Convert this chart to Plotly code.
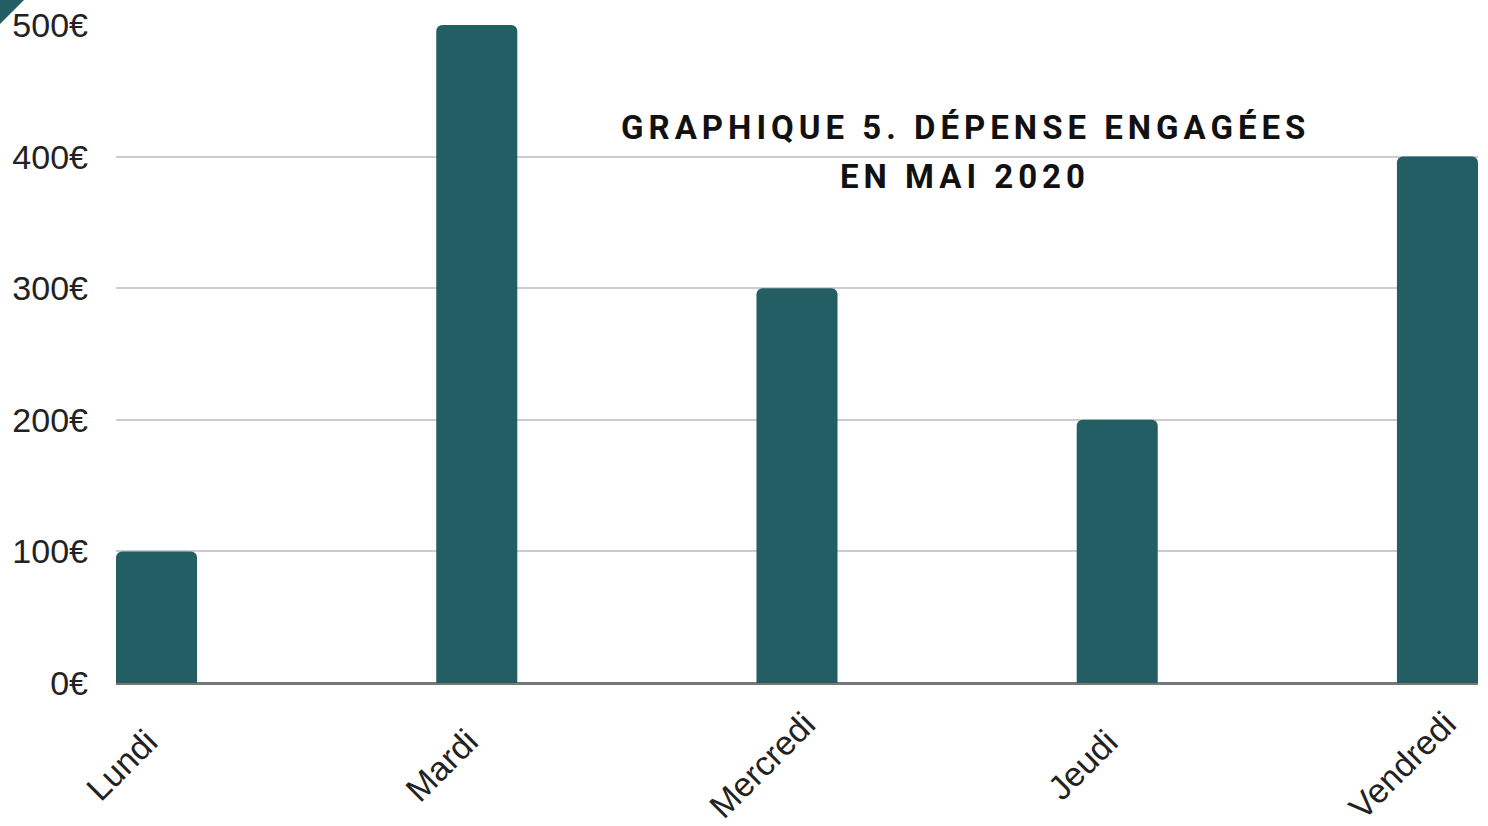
import plotly.graph_objects as go

days = ["Lundi", "Mardi", "Mercredi", "Jeudi", "Vendredi"]
spend = [100, 500, 300, 200, 400]
y_ticks = [0, 100, 200, 300, 400, 500]
y_tick_labels = ["0€", "100€", "200€", "300€", "400€", "500€"]
title_lines = ["GRAPHIQUE 5. DÉPENSE ENGAGÉES", "EN MAI 2020"]

W, H = 1488, 826
ML, MR, MT, MB = 116, 10, 25, 143
PW, PH = W - ML - MR, H - MT - MB
BAR = "#235E65"

fig = go.Figure(go.Bar(
    x=list(range(len(days))), y=spend,
    marker=dict(color=BAR, cornerradius=6, line=dict(width=0)),
    width=0.2531, hoverinfo="skip",
))

fig.update_layout(
    width=W, height=H,
    margin=dict(l=ML, r=MR, t=MT, b=MB, pad=0, autoexpand=False),
    paper_bgcolor="white", plot_bgcolor="white",
    showlegend=False,
    font=dict(family="Liberation Sans, Arial, sans-serif", color="#222222"),
)
fig.update_xaxes(
    range=[-0.1266, 4.1266], tickmode="array",
    tickvals=list(range(len(days))), ticktext=days,
    showticklabels=False,
    showgrid=False, zeroline=False, showline=False, ticks="",
    automargin=False,
)
fig.update_yaxes(
    range=[0, 500], tickmode="array", tickvals=y_ticks, ticktext=y_tick_labels,
    tickfont=dict(size=34, color="#222222"),
    showgrid=True, gridcolor="#CCCCCC", gridwidth=2,
    zeroline=True, zerolinecolor="#777777", zerolinewidth=3,
    showline=False, ticks="", ticklabelstandoff=27, automargin=False,
    ticklabeloverflow="allow",
)

# category labels, rotated about their centre below each bar
for i, d in enumerate(days):
    fig.add_annotation(
        text=d, x=i, xref="x", yref="paper",
        y=-(765 - 683) / PH, xshift=-35,
        textangle=-45, showarrow=False,
        xanchor="center", yanchor="middle",
        font=dict(size=34, color="#222222",
                  family="Liberation Sans, Arial, sans-serif"),
    )

def span(t):
    return '<span style="letter-spacing:5px">' + t + '</span>'

for i, (line, ypix) in enumerate(zip(title_lines, [128, 176])):
    fig.add_annotation(
        text="<b>" + span(line) + "</b>",
        xref="paper", yref="paper",
        x=(965 - ML) / PW, y=1 - (ypix - MT) / PH,
        xanchor="center", yanchor="middle", showarrow=False,
        font=dict(family="Roboto, sans-serif", size=33, color="#111111"),
    )

# corner triangle decoration at the page's top-left corner
x0, x1 = -ML / PW, (24 - ML) / PW
y0, y1 = 1 + MT / PH, 1 + (MT - 24) / PH
fig.add_shape(type="path", xref="paper", yref="paper",
              path=f"M{x0},{y0} L{x1},{y0} L{x0},{y1} Z",
              fillcolor=BAR, line=dict(width=0), layer="above")

fig.write_html("out.html",
               config={"displayModeBar": False},
               post_script="document.body.style.margin='0';document.body.style.overflow='hidden';")
